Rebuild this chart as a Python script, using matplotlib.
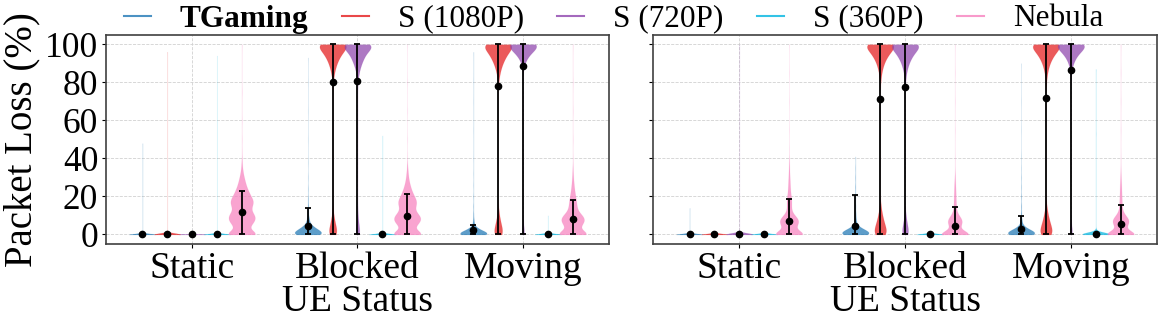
import numpy as np
import matplotlib
matplotlib.use('Agg')
from matplotlib import pyplot as plt
from matplotlib.colors import to_rgba
from matplotlib.lines import Line2D

plt.rcParams['font.family'] = ['Liberation Serif', 'DejaVu Serif']
plt.rcParams['font.size'] = 27

CATEGORIES = ['Static', 'Blocked', 'Moving']
SERIES = ['TGaming', 'S (1080P)', 'S (720P)', 'S (360P)', 'Nebula']
COLORS = ['#1f77b4', '#e41a1c', '#8e44ad', '#00b4e0', '#f781bf']

# violin samples as {packet loss value: count}
# one dict per category: Static / Blocked / Moving
L_TGAMING = [
    {0: 1000, 48: 1},
    {0: 300, 1: 220, 2: 160, 3: 110, 4: 80, 5: 55, 7: 40, 9: 28, 12: 18, 15: 12,
     19: 8, 24: 5, 30: 3, 38: 2, 50: 1, 65: 1, 80: 1, 93: 1},
    {0: 400, 1: 250, 2: 150, 3: 80, 4: 45, 6: 25, 8: 15, 11: 10, 15: 7, 20: 5,
     26: 3, 32: 2, 40: 1, 55: 1, 70: 1, 81: 1, 96: 1},
]
L_S1080 = [
    {0: 800, 0.5: 150, 1: 50, 96: 1},
    {0: 55, 2: 45, 4: 35, 6: 25, 8: 18, 10: 10, 12: 6, 14: 3, 25: 1, 50: 1, 70: 1,
     79: 5, 82: 12, 85: 25, 88: 45, 91: 75, 94: 120, 97: 180, 100: 300},
    {0: 60, 2: 50, 4: 38, 6: 28, 8: 20, 10: 12, 12: 7, 14: 3, 30: 1, 55: 1,
     79: 5, 82: 12, 85: 28, 88: 50, 91: 85, 94: 130, 97: 190, 100: 300},
]
L_S720 = [
    {0: 1000, 0.3: 1},
    {0: 35, 2: 28, 4: 20, 6: 14, 8: 9, 10: 5, 12: 3, 14: 1, 40: 1, 65: 1,
     80: 6, 83: 15, 86: 35, 89: 65, 92: 110, 95: 160, 98: 220, 100: 300},
    {0: 25, 2: 15, 4: 8, 6: 4, 8: 2, 40: 1, 70: 1,
     88: 15, 91: 45, 94: 110, 97: 220, 100: 400},
]
L_S360 = [
    {0: 1000, 94: 1},
    {0: 1000, 52: 1},
    {0: 1000, 10: 1},
]
L_NEBULA = [
    {0: 200, 2: 65, 4: 58, 6: 95, 8: 118, 10: 115, 12: 82, 14: 75, 16: 98, 18: 100, 20: 78,
     22: 62, 24: 48, 26: 36, 28: 28, 30: 20, 32: 13, 34: 8, 36: 5, 38: 3, 40: 2, 44: 1,
     50: 1, 60: 1, 75: 1, 100: 1},
    {0: 200, 2: 65, 4: 55, 6: 100, 8: 122, 10: 110, 12: 68, 14: 62, 16: 80, 18: 80, 20: 60,
     22: 45, 24: 33, 26: 24, 28: 16, 30: 11, 32: 8, 34: 5, 36: 3, 38: 2, 42: 1, 50: 1,
     65: 1, 80: 1, 100: 1},
    {0: 200, 2: 65, 4: 55, 6: 92, 8: 108, 10: 85, 12: 46, 14: 36, 16: 33, 18: 30, 20: 24,
     22: 19, 24: 14, 26: 11, 28: 8, 30: 6, 32: 4, 34: 3, 36: 2, 40: 1, 50: 1, 65: 1,
     80: 1, 100: 1},
]

R_TGAMING = [
    {0: 1000, 14: 1},
    {0: 300, 1: 220, 2: 150, 3: 90, 4: 55, 6: 30, 8: 20, 11: 15, 15: 12, 20: 10,
     25: 8, 30: 6, 35: 4, 41: 2},
    {0: 320, 1: 230, 2: 150, 3: 85, 4: 50, 6: 28, 8: 18, 11: 13, 15: 10, 20: 8,
     25: 6, 30: 5, 35: 3, 41: 2, 55: 1, 70: 1, 90: 1},
]
R_S1080 = [
    {0: 1000, 1: 1},
    {0: 80, 2: 65, 4: 52, 6: 40, 8: 30, 10: 22, 12: 15, 14: 9, 16: 5, 18: 2, 40: 1, 60: 1,
     79: 4, 82: 10, 85: 20, 88: 38, 91: 65, 94: 110, 97: 170, 100: 280},
    {0: 80, 2: 65, 4: 52, 6: 40, 8: 30, 10: 22, 12: 15, 14: 9, 16: 5, 18: 2, 40: 1, 60: 1,
     79: 4, 82: 10, 85: 20, 88: 38, 91: 65, 94: 110, 97: 170, 100: 280},
]
R_S720 = [
    {0: 700, 0.5: 200, 1: 100, 100: 1},
    {0: 45, 2: 36, 4: 28, 6: 20, 8: 14, 10: 8, 12: 5, 14: 2, 40: 1, 60: 1,
     79: 4, 82: 10, 85: 20, 88: 40, 91: 70, 94: 115, 97: 180, 100: 300},
    {0: 25, 2: 18, 4: 10, 6: 5, 8: 2, 40: 1, 65: 1,
     82: 4, 85: 10, 88: 25, 91: 60, 94: 120, 97: 220, 100: 400},
]
R_S360 = [
    {0: 1000, 1: 1},
    {0: 1000, 1: 1},
    {0: 500, 0.5: 300, 1: 150, 2: 50, 53: 2, 87: 2},
]
R_NEBULA = [
    {0: 220, 2: 55, 4: 55, 6: 88, 8: 90, 10: 50, 12: 22, 14: 20, 16: 22, 18: 22, 20: 18,
     22: 13, 24: 11, 26: 9, 28: 8, 30: 6, 32: 5, 34: 4, 36: 3, 38: 2, 40: 2, 45: 1,
     55: 1, 70: 1, 85: 1, 100: 1},
    {0: 230, 2: 40, 4: 40, 6: 68, 8: 68, 10: 34, 12: 16, 14: 13, 16: 11, 18: 10, 20: 9,
     22: 8, 24: 7, 26: 6, 28: 4, 30: 3, 32: 2, 35: 1, 40: 1, 55: 1, 70: 1, 85: 1, 100: 1},
    {0: 230, 2: 45, 4: 42, 6: 78, 8: 80, 10: 42, 12: 20, 14: 14, 16: 12, 18: 11, 20: 10,
     22: 9, 24: 8, 26: 7, 28: 5, 30: 4, 32: 3, 35: 2, 40: 1, 55: 1, 70: 1, 85: 1, 100: 1},
]

# kernel bandwidth (in % units) per violin, rows: series
L_BW = [[0.5, 1.5, 1.3], [0.6, 2.5, 2.5], [0.5, 2.5, 2.5], [0.5, 0.5, 0.5], [1.8, 1.8, 1.8]]
R_BW = [[0.5, 1.5, 1.5], [0.5, 2.5, 2.5], [0.6, 2.5, 2.5], [0.5, 0.5, 0.8], [1.8, 1.8, 1.8]]

# mean and error bar ends, rows: series, columns: Static / Blocked / Moving
L_MEAN = [[0, 4.7, 2.5], [0.3, 80.0, 77.8], [0, 80.8, 88.6], [0, 0, 0], [11.9, 9.7, 7.9]]
L_LO = [[0, 0, 0], [0, 0, 0], [0, 0, 0], [0, 0, 0], [0, 0, 0]]
L_HI = [[0, 13.9, 5.1], [0.3, 100, 100], [0, 100, 100], [0, 0, 0], [22.9, 21.3, 18.1]]

R_MEAN = [[0, 4.4, 3.0], [0, 71.3, 72.0], [0, 77.7, 86.3], [0, 0, 0.3], [6.9, 4.7, 5.3]]
R_LO = [[0, 0, 0], [0, 0, 0], [0, 0, 0], [0, 0, 0], [0, 0, 0]]
R_HI = [[0, 20.7, 9.8], [0, 100, 100], [0, 100, 100], [0, 0, 0.3], [18.6, 14.2, 15.5]]

OFFSET = 0.15
VWIDTH = 0.16


def draw_panel(ax, violins, bws, means, lows, highs):
    for si in range(len(SERIES)):
        for ci in range(len(CATEGORIES)):
            d = violins[si][ci]
            data = np.repeat(np.array(list(d.keys()), dtype=float), list(d.values()))
            pos = ci + (si - 2) * OFFSET
            parts = ax.violinplot([data], positions=[pos], widths=VWIDTH, showextrema=False,
                                  bw_method=bws[si][ci] / data.std(), points=500)
            for body in parts['bodies']:
                body.set_alpha(None)
                body.set_facecolor(to_rgba(COLORS[si], 0.72))
                body.set_edgecolor(to_rgba(COLORS[si], 0.13))
                body.set_linewidth(0.5)
                body.set_zorder(2)
            m = means[si][ci]
            ax.errorbar(pos, m, yerr=[[m - lows[si][ci]], [highs[si][ci] - m]], fmt='o',
                        color='black', ms=4.5, elinewidth=1.3, capsize=2.5, capthick=1.3, zorder=3)

    ax.set_xlim(-0.52, 2.52)
    ax.set_ylim(-5, 105)
    ax.set_xticks(range(len(CATEGORIES)))
    ax.set_xticklabels(CATEGORIES)
    ax.set_yticks([0, 20, 40, 60, 80, 100])
    ax.set_xlabel('UE Status', labelpad=-1)
    ax.grid(True, ls='--', lw=0.6, color='0.82')
    ax.set_axisbelow(True)
    ax.tick_params(length=3, width=0.8, pad=2.5)
    ax.tick_params(axis='y', labelsize=25.5)
    for sp in ax.spines.values():
        sp.set_color('0.25')
        sp.set_linewidth(1.2)


fig = plt.figure(figsize=(11.62, 3.2), dpi=100)
ax1 = fig.add_axes([0.0912, 0.2375, 0.4329, 0.654])
ax2 = fig.add_axes([0.562, 0.2375, 0.4337, 0.654])

draw_panel(ax1, [L_TGAMING, L_S1080, L_S720, L_S360, L_NEBULA], L_BW, L_MEAN, L_LO, L_HI)
draw_panel(ax2, [R_TGAMING, R_S1080, R_S720, R_S360, R_NEBULA], R_BW, R_MEAN, R_LO, R_HI)
ax1.set_ylabel('Packet Loss (%)', fontsize=28, labelpad=3)
ax2.tick_params(labelleft=False)

handles = [Line2D([], [], color=c, lw=1.5, alpha=0.8) for c in COLORS]
leg = fig.legend(handles, SERIES, ncol=5, loc='upper center', bbox_to_anchor=(0.528, 1.025),
                 frameon=False, fontsize=22.5, borderaxespad=0, handlelength=0.87,
                 handletextpad=0.93, columnspacing=1.06)
leg.get_texts()[0].set_fontweight('bold')

fig.savefig('out.png', dpi=100)
